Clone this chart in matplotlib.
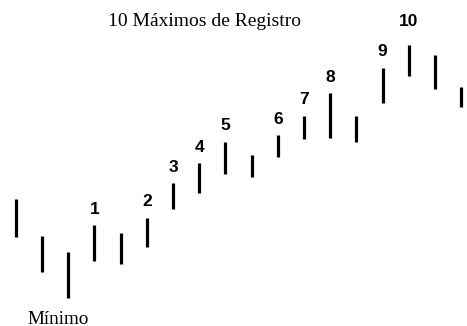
import matplotlib
matplotlib.use("Agg")
import matplotlib.pyplot as plt

# Bar highs/lows (arbitrary price units, up = higher)
highs = [127, 90, 74, 101, 93, 108, 143, 163, 184, 171, 191, 210, 233, 210, 258, 281, 271, 239]
lows  = [89, 54, 28, 65, 62, 79, 117, 133, 152, 149, 169, 187, 188, 184, 223, 250, 237, 219]
record_labels = {3: "1", 5: "2", 6: "3", 7: "4", 8: "5", 10: "6", 11: "7", 12: "8", 14: "9", 15: "10"}
title_text = "10 Máximos de Registro"
low_text = "Mínimo"
low_index = 2

W, H = 467, 326
fig = plt.figure(figsize=(W / 100, H / 100), dpi=100)
ax = fig.add_axes([0, 0, 1, 1])
ax.set_xlim(-0.6, 17.22)
ax.set_ylim(0, 326)
ax.axis("off")

xs = list(range(len(highs)))
ax.vlines(xs, lows, highs, colors="black", linewidth=2.3)

for i, lab in record_labels.items():
    if lab == "10":
        ax.text(i, 305, lab, ha="center", va="center", fontsize=12.5,
                fontweight="bold", family="Liberation Sans")
    else:
        ax.annotate(lab, (i, highs[i]), xytext=(0, 16), textcoords="offset pixels",
                    ha="center", va="center", fontsize=12.5, fontweight="bold",
                    family="Liberation Sans")

ax.text(7.2, 305, title_text, ha="center", va="center", fontsize=14,
        family="Liberation Serif")
ax.annotate(low_text, (low_index, lows[low_index]), xytext=(-10, -21),
            textcoords="offset pixels", ha="center", va="center", fontsize=13.8,
            family="Liberation Serif")

fig.savefig("out.png", dpi=100, facecolor="white")
